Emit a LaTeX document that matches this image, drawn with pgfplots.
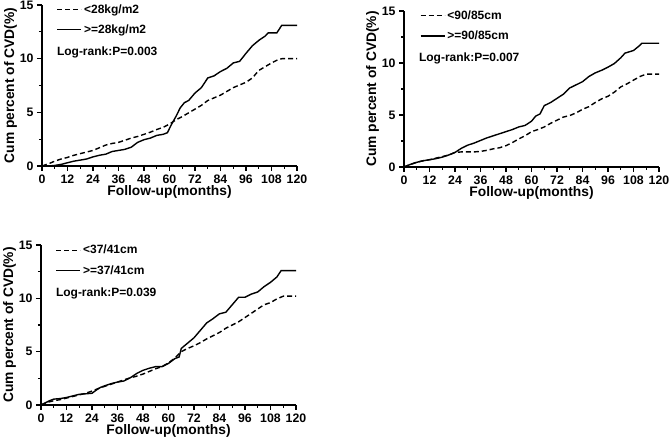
\documentclass[border=0pt]{standalone}
\usepackage{fontspec}
\setmainfont{Liberation Sans}
\usepackage{pgfplots}
\pgfplotsset{compat=1.18}
\pgfplotsset{
  kmstyle/.style={
    scale only axis, width=255pt, height=160pt,
    xmin=0,xmax=120,ymin=0,ymax=15,
    axis lines=left, axis line style={-, line width=1.5pt},
    xtick={0,12,...,120}, ytick={0,5,10,15},
    minor x tick num=1, minor y tick num=1,
    tick align=outside, major tick length=5pt, minor tick length=3pt,
    every tick/.style={black, line width=1.2pt},
    tick label style={font=\fontsize{12.3}{14}\selectfont\bfseries},
    /pgf/number format/assume math mode=true,
    xlabel={Follow-up(months)}, ylabel={Cum percent of CVD(\%)},
    label style={font=\fontsize{13.8}{15}\selectfont\bfseries},
    xlabel style={yshift=5pt},
    ylabel style={yshift=-4pt},
    legend style={draw=none, fill=none, anchor=north west, font=\fontsize{12}{14}\selectfont\bfseries, row sep=6pt},
    legend cell align=left,
    legend image code/.code={\draw[#1] (0pt,0pt) -- (24pt,0pt);},
    clip=false,
  },
  sol/.style={black, line width=1.4pt},
  das/.style={black, line width=1.4pt, dash pattern=on 5pt off 3pt},
}
\begin{document}
\begin{tikzpicture}
\useasboundingbox (0,0) rectangle (670pt,444pt);
% Panel 1: BMI
\begin{axis}[kmstyle, at={(42pt,278pt)}, anchor=south west, height=161pt,
  legend style={at={(0.045,1.03)}}]
\addplot[das] coordinates {(0,0) (3,0.2) (6,0.45) (9,0.65) (12,0.8) (15,1.0) (18,1.15) (21,1.3) (24,1.45) (27,1.7) (30,1.95) (33,2.1) (36,2.2) (39,2.4) (42,2.6) (45,2.75) (48,2.95) (51,3.15) (54,3.4) (57,3.6) (60,3.9) (63,4.3) (66,4.6) (69,4.95) (72,5.3) (75,5.65) (78,6.1) (81,6.35) (84,6.6) (87,6.95) (90,7.3) (93,7.55) (96,7.8) (99,8.2) (102,8.9) (105,9.25) (108,9.6) (111,9.9) (113,10.0) (120,10.0)};
\addlegendentry{<28kg/m2}
\addplot[sol] coordinates {(0,0) (3,0) (6,0.05) (9,0.15) (12,0.3) (15,0.45) (18,0.55) (21,0.65) (24,0.85) (27,1.0) (30,1.1) (33,1.35) (36,1.45) (39,1.55) (42,1.75) (45,2.2) (48,2.45) (51,2.6) (54,2.85) (57,2.95) (59,3.1) (61,3.9) (63,4.6) (65,5.4) (67,5.9) (69,6.1) (72,6.8) (75,7.3) (78,8.2) (81,8.4) (84,8.8) (87,9.1) (90,9.6) (93,9.75) (96,10.5) (99,11.2) (102,11.7) (105,12.1) (106.5,12.4) (110.5,12.4) (112.8,13.1) (120,13.1)};
\addlegendentry{>=28kg/m2}
\node[anchor=west, font=\fontsize{12}{14}\selectfont\bfseries] at (rel axis cs:0.045,0.705) {Log-rank:P=0.003};
\end{axis}
% Panel 2: waist
\begin{axis}[kmstyle, at={(404pt,277pt)}, anchor=south west, height=156pt,
  legend style={at={(0.05,1.03)}}]
\addplot[das] coordinates {(0,0) (3,0.25) (6,0.45) (9,0.6) (12,0.7) (15,0.85) (18,1.0) (21,1.15) (24,1.4) (27,1.45) (30,1.45) (33,1.45) (36,1.5) (39,1.6) (42,1.75) (45,1.85) (48,2.05) (51,2.35) (54,2.7) (57,3.0) (60,3.4) (63,3.6) (66,3.85) (69,4.2) (72,4.5) (75,4.8) (78,4.95) (81,5.2) (84,5.55) (87,5.8) (90,6.2) (93,6.55) (96,6.8) (99,7.2) (102,7.7) (105,8.0) (108,8.35) (111,8.7) (114,8.93) (120,8.93)};
\addlegendentry{<90/85cm}
\addplot[sol] coordinates {(0,0) (3,0.25) (6,0.45) (9,0.6) (12,0.7) (15,0.8) (18,0.95) (21,1.15) (24,1.4) (27,1.8) (30,2.1) (33,2.3) (36,2.55) (39,2.8) (42,3.0) (45,3.2) (48,3.4) (51,3.6) (54,3.85) (57,4.0) (60,4.4) (62,4.9) (64,5.1) (66,5.9) (69,6.2) (72,6.6) (75,7.0) (78,7.6) (81,7.9) (84,8.2) (87,8.7) (90,9.05) (93,9.3) (96,9.6) (99,9.95) (102,10.5) (104,10.95) (108,11.2) (111,11.7) (112,11.9) (120,11.9)};
\addlegendentry{>=90/85cm}
\node[anchor=west, font=\fontsize{12}{14}\selectfont\bfseries] at (rel axis cs:0.045,0.695) {Log-rank:P=0.007};
\end{axis}
% Panel 3: neck
\begin{axis}[kmstyle, at={(41pt,39pt)}, anchor=south west, height=160pt,
  legend style={at={(0.045,1.025)}}]
\addplot[das] coordinates {(0,0) (3,0.25) (6,0.4) (9,0.5) (12,0.65) (15,0.8) (18,0.95) (21,1.1) (24,1.3) (27,1.55) (30,1.75) (33,1.95) (36,2.15) (39,2.35) (42,2.55) (45,2.7) (48,2.9) (51,3.15) (54,3.4) (57,3.6) (60,3.95) (63,4.4) (66,5.0) (69,5.3) (72,5.55) (75,5.85) (78,6.2) (81,6.5) (84,6.8) (87,7.2) (90,7.5) (93,7.8) (96,8.2) (99,8.6) (102,9.0) (105,9.4) (108,9.6) (111,9.95) (114,10.2) (120,10.2)};
\addlegendentry{<37/41cm}
\addplot[sol] coordinates {(0,0) (2,0.2) (4,0.4) (6,0.55) (9,0.6) (12,0.7) (15,0.85) (18,1.0) (21,1.05) (24,1.1) (26,1.4) (28,1.65) (30,1.8) (33,2.0) (36,2.15) (39,2.25) (42,2.55) (45,2.95) (48,3.25) (51,3.45) (54,3.6) (57,3.6) (60,3.9) (63,4.35) (65,4.5) (66,5.3) (69,5.8) (72,6.3) (75,7.0) (78,7.7) (81,8.1) (84,8.55) (87,8.7) (90,9.4) (93,10.1) (96,10.1) (99,10.4) (102,10.6) (105,11.1) (108,11.5) (111,12.0) (113,12.6) (120,12.6)};
\addlegendentry{>=37/41cm}
\node[anchor=west, font=\fontsize{12}{14}\selectfont\bfseries] at (rel axis cs:0.045,0.70) {Log-rank:P=0.039};
\end{axis}
\end{tikzpicture}
\end{document}
